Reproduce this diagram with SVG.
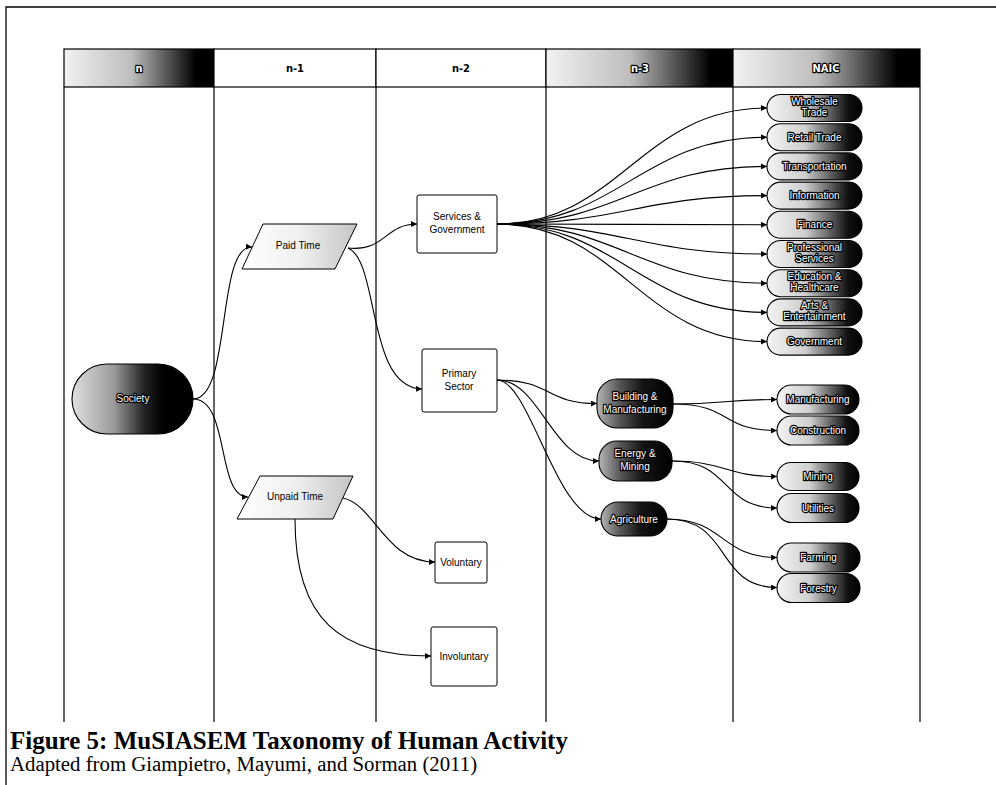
<svg xmlns="http://www.w3.org/2000/svg" width="996" height="785" viewBox="0 0 996 785">
<style>
.frame{fill:none;stroke:#000;stroke-width:1.3}
.col{fill:none;stroke:#000;stroke-width:1.2}
.hdr{stroke:#000;stroke-width:1.2}
.box{fill:#fff;stroke:#000;stroke-width:1}
.pill{stroke:#000;stroke-width:1.1}
.para{fill:url(#gPara);stroke:#000;stroke-width:1}
.t{font-family:"Liberation Sans",Arial,sans-serif;font-size:10px;text-anchor:middle;fill:#000}
.inv{fill:#fff;stroke:#000;stroke-width:2.4;paint-order:stroke;stroke-linejoin:round}
.h{font-family:"DejaVu Sans Condensed","DejaVu Sans",sans-serif;font-size:11px;font-weight:bold;text-anchor:middle}
.cap1{font-family:"Liberation Serif","Times New Roman",serif;font-size:25px;font-weight:bold}
.cap2{font-family:"Liberation Serif","Times New Roman",serif;font-size:20.8px}
#connectors path{fill:none;stroke:#000;stroke-width:1.1;marker-end:url(#arr)}
</style>
<defs>
<marker id="arr" markerUnits="userSpaceOnUse" markerWidth="7" markerHeight="6" refX="6" refY="3" orient="auto">
<path d="M0,0 L6,3 L0,6 z" fill="#000"/>
</marker>
<linearGradient id="gNaic" x1="0" y1="0" x2="1" y2="0">
<stop offset="0" stop-color="#f4f4f4"/><stop offset="0.4" stop-color="#cfcfcf"/><stop offset="0.68" stop-color="#5a5a5a"/><stop offset="0.85" stop-color="#111"/><stop offset="1" stop-color="#000"/>
</linearGradient>
<linearGradient id="gDark" x1="0" y1="0" x2="1" y2="0">
<stop offset="0" stop-color="#b5b5b5"/><stop offset="0.3" stop-color="#555"/><stop offset="0.6" stop-color="#141414"/><stop offset="1" stop-color="#000"/>
</linearGradient>
<linearGradient id="gSoc" x1="0" y1="0" x2="1" y2="0">
<stop offset="0" stop-color="#e0e0e0"/><stop offset="0.35" stop-color="#999"/><stop offset="0.6" stop-color="#222"/><stop offset="0.75" stop-color="#000"/><stop offset="1" stop-color="#000"/>
</linearGradient>
<linearGradient id="gPara" x1="0" y1="0" x2="1" y2="0">
<stop offset="0" stop-color="#fff"/><stop offset="0.5" stop-color="#f0f0f0"/><stop offset="1" stop-color="#c4c4c4"/>
</linearGradient>
<linearGradient id="gHdr" x1="0" y1="0" x2="1" y2="0">
<stop offset="0" stop-color="#f2f2f2"/><stop offset="0.45" stop-color="#bdbdbd"/><stop offset="0.75" stop-color="#3a3a3a"/><stop offset="0.88" stop-color="#000"/><stop offset="1" stop-color="#000"/>
</linearGradient>
</defs>
<rect width="996" height="785" fill="#fff"/>
<g id="frame">
<path class="frame" d="M6,785 V7 H996"/>
</g>
<g id="header">
<rect class="hdr" x="64" y="49" width="150" height="38" fill="url(#gHdr)"/>
<rect class="hdr" x="214" y="49" width="162" height="38" fill="#fff"/>
<rect class="hdr" x="376" y="49" width="170" height="38" fill="#fff"/>
<rect class="hdr" x="546" y="49" width="187" height="38" fill="url(#gHdr)"/>
<rect class="hdr" x="733" y="49" width="187" height="38" fill="url(#gHdr)"/>
<text class="h inv" x="139" y="72">n</text>
<text class="h" x="295" y="72">n-1</text>
<text class="h" x="461" y="72">n-2</text>
<text class="h inv" x="640" y="72">n-3</text>
<text class="h inv" x="826" y="72">NAIC</text>
</g>
<g id="columns">
<path class="col" d="M64,87 V722 M214,87 V722 M376,87 V722 M546,87 V722 M733,87 V722 M920,87 V722"/>
</g>
<g id="connectors">
<path d="M193,399 C232,399 216,245 252,247"/>
<path d="M193,399 C230,399 216,497 248,497"/>
<path d="M348,248 C385,252 385,224 417,224"/>
<path d="M348,248 C380,262 366,387 422,389"/>
<path d="M497,224 C620,224 640,108 767,108"/>
<path d="M497,224 C620,224 640,137.2 767,137.2"/>
<path d="M497,224 C620,224 640,166.4 767,166.4"/>
<path d="M497,224 C620,224 640,195.6 767,195.6"/>
<path d="M497,224 C620,224 640,224.8 767,224.8"/>
<path d="M497,224 C620,224 640,254 767,254"/>
<path d="M497,224 C620,224 640,283.2 767,283.2"/>
<path d="M497,224 C620,224 640,312.4 767,312.4"/>
<path d="M497,224 C620,224 640,341.6 767,341.6"/>
<path d="M497,380 C552,380 545,403.5 597,403.5"/>
<path d="M497,380 C540,380 552,461 599,461"/>
<path d="M497,380 C530,380 556,519 601,519"/>
<path d="M673,404 C725,404 725,399.5 777,399.5"/>
<path d="M673,404 C732,404 720,430.5 777,430.5"/>
<path d="M672,461 C725,461 725,476.5 777,476.5"/>
<path d="M672,461 C732,461 720,508 777,508"/>
<path d="M667,519 C725,519 720,557.5 777,557.5"/>
<path d="M667,519 C732,519 715,587.5 777,587.5"/>
<path d="M343,498 C375,505 385,562 435,562"/>
<path d="M295,519 C295,620 340,656 431,656"/>
</g>
<g id="society">
<rect class="pill" x="72" y="364" width="121" height="70" rx="35" fill="url(#gSoc)"/>
<text class="t inv" x="133" y="402">Society</text>
</g>
<g id="paid-time">
<polygon class="para" points="263,224 357,224 335,269 242,269"/>
<text class="t" x="298" y="249">Paid Time</text>
</g>
<g id="unpaid-time">
<polygon class="para" points="260,476 353,476 333,519 237,519"/>
<text class="t" x="295" y="500">Unpaid Time</text>
</g>
<g id="services-government">
<rect class="box" x="417" y="195" width="80" height="58" rx="2"/>
<text class="t" x="457" y="220">Services &amp;</text>
<text class="t" x="457" y="233">Government</text>
</g>
<g id="primary-sector">
<rect class="box" x="422" y="349" width="75" height="63" rx="2"/>
<text class="t" x="459" y="377">Primary</text>
<text class="t" x="459" y="390">Sector</text>
</g>
<g id="voluntary">
<rect class="box" x="435" y="542" width="52" height="41" rx="2"/>
<text class="t" x="461" y="566">Voluntary</text>
</g>
<g id="involuntary">
<rect class="box" x="431" y="627" width="66" height="59" rx="2"/>
<text class="t" x="464" y="660">Involuntary</text>
</g>
<g id="building-manufacturing">
<rect class="pill" x="597" y="379" width="76" height="49" rx="20" fill="url(#gDark)"/>
<text class="t inv" x="635" y="400">Building &amp;</text>
<text class="t inv" x="635" y="413">Manufacturing</text>
</g>
<g id="energy-mining">
<rect class="pill" x="599" y="441" width="73" height="40" rx="18" fill="url(#gDark)"/>
<text class="t inv" x="635" y="457">Energy &amp;</text>
<text class="t inv" x="635" y="470">Mining</text>
</g>
<g id="agriculture">
<rect class="pill" x="601" y="502" width="66" height="34" rx="17" fill="url(#gDark)"/>
<text class="t inv" x="634" y="522.5">Agriculture</text>
</g>
<g id="wholesale-trade">
<rect class="pill" x="767" y="94.5" width="95" height="27" rx="13.5" fill="url(#gNaic)"/>
<text class="t inv" x="814.5" y="105">Wholesale</text>
<text class="t inv" x="814.5" y="116">Trade</text>
</g>
<g id="retail-trade">
<rect class="pill" x="767" y="123.7" width="95" height="27" rx="13.5" fill="url(#gNaic)"/>
<text class="t inv" x="814.5" y="140.7">Retail Trade</text>
</g>
<g id="transportation">
<rect class="pill" x="767" y="152.9" width="95" height="27" rx="13.5" fill="url(#gNaic)"/>
<text class="t inv" x="814.5" y="169.9">Transportation</text>
</g>
<g id="information">
<rect class="pill" x="767" y="182.1" width="95" height="27" rx="13.5" fill="url(#gNaic)"/>
<text class="t inv" x="814.5" y="199.1">Information</text>
</g>
<g id="finance">
<rect class="pill" x="767" y="211.3" width="95" height="27" rx="13.5" fill="url(#gNaic)"/>
<text class="t inv" x="814.5" y="228.3">Finance</text>
</g>
<g id="professional-services">
<rect class="pill" x="767" y="240.5" width="95" height="27" rx="13.5" fill="url(#gNaic)"/>
<text class="t inv" x="814.5" y="251">Professional</text>
<text class="t inv" x="814.5" y="262">Services</text>
</g>
<g id="education-healthcare">
<rect class="pill" x="767" y="269.7" width="95" height="27" rx="13.5" fill="url(#gNaic)"/>
<text class="t inv" x="814.5" y="280.2">Education &amp;</text>
<text class="t inv" x="814.5" y="291.2">Healthcare</text>
</g>
<g id="arts-entertainment">
<rect class="pill" x="767" y="298.9" width="95" height="27" rx="13.5" fill="url(#gNaic)"/>
<text class="t inv" x="814.5" y="309.4">Arts &amp;</text>
<text class="t inv" x="814.5" y="320.4">Entertainment</text>
</g>
<g id="government">
<rect class="pill" x="767" y="328.1" width="95" height="27" rx="13.5" fill="url(#gNaic)"/>
<text class="t inv" x="814.5" y="345.1">Government</text>
</g>
<g id="manufacturing">
<rect class="pill" x="777" y="385" width="82" height="29" rx="14.5" fill="url(#gNaic)"/>
<text class="t inv" x="818" y="403">Manufacturing</text>
</g>
<g id="construction">
<rect class="pill" x="777" y="416" width="82" height="29" rx="14.5" fill="url(#gNaic)"/>
<text class="t inv" x="818" y="434">Construction</text>
</g>
<g id="mining">
<rect class="pill" x="777" y="462.5" width="82" height="28" rx="14" fill="url(#gNaic)"/>
<text class="t inv" x="818" y="480">Mining</text>
</g>
<g id="utilities">
<rect class="pill" x="777" y="493.5" width="82" height="29" rx="14.5" fill="url(#gNaic)"/>
<text class="t inv" x="818" y="511.5">Utilities</text>
</g>
<g id="farming">
<rect class="pill" x="777" y="543" width="83" height="29" rx="14.5" fill="url(#gNaic)"/>
<text class="t inv" x="818.5" y="561">Farming</text>
</g>
<g id="forestry">
<rect class="pill" x="777" y="573.5" width="83" height="29" rx="14.5" fill="url(#gNaic)"/>
<text class="t inv" x="818.5" y="591.5">Forestry</text>
</g>
<g id="caption">
<text class="cap1" x="10" y="749">Figure 5: MuSIASEM Taxonomy of Human Activity</text>
<text class="cap2" x="10" y="771">Adapted from Giampietro, Mayumi, and Sorman (2011)</text>
</g>
</svg>
